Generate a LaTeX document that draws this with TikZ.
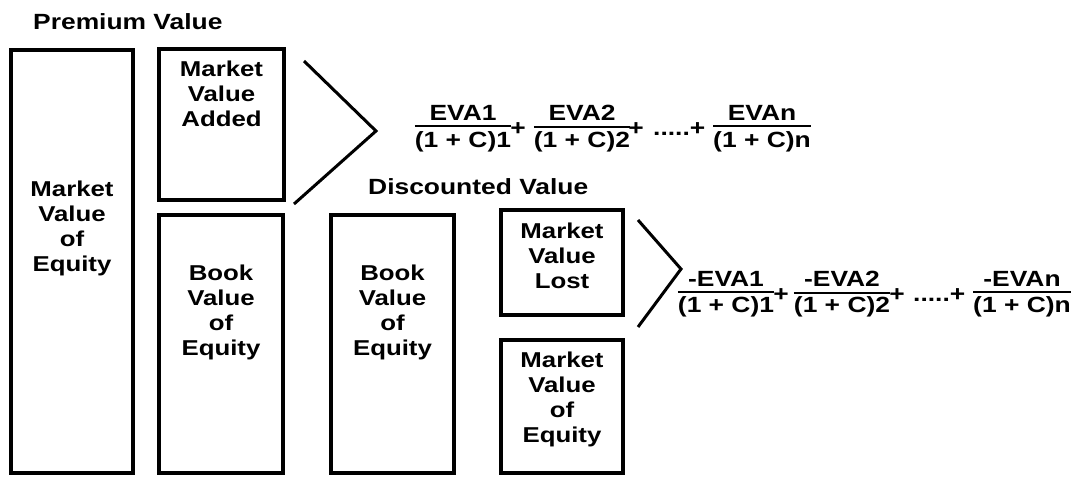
\documentclass[tikz,border=0pt]{standalone}
\usepackage{fontspec}
\setmainfont{Liberation Sans}[FakeStretch=1.2]
\usepackage{array}

% gaps above and below the fraction bar
\newlength\numgap
\newlength\dengap
\newcommand\evafrac[2]{{\renewcommand\arraystretch{0}\setlength\arrayrulewidth{2pt}%
  \begin{tabular}{@{}c@{}}#1\rule[-\numgap]{0pt}{0pt}\\\hline\rule{0pt}{\dengap}#2\end{tabular}}}

\tikzset{
  box/.style={draw, line width=4pt, inner sep=0pt, outer sep=0pt},
  boxtext/.style={font=\bfseries\fontsize{21.5}{25}\selectfont, align=center, anchor=north, inner sep=0pt},
  heading/.style={font=\bfseries\fontsize{22}{26}\selectfont, anchor=base west, inner sep=0pt},
  fracnode/.style={font=\bfseries\fontsize{22}{26}\selectfont, anchor=north, inner sep=0pt},
  plusnode/.style={font=\bfseries\fontsize{22}{26}\selectfont, anchor=base, inner sep=0pt},
  dotsnode/.style={font=\bfseries\fontsize{22}{26}\selectfont, anchor=base west, inner sep=0pt},
  brace/.style={line width=3pt, line join=miter}
}

\begin{document}
\begin{tikzpicture}[x=1pt, y=-1pt]
\useasboundingbox[fill=white] (0,0) rectangle (1073,477);

% headings
\node[heading] (prem) at (33,29) {Premium Value};
\node[heading] (disc) at (368,194) {Discounted Value};

% boxes
\node[box, minimum width=122pt, minimum height=423pt] (mve) at (72,261.5) {};
\node[box, minimum width=125pt, minimum height=151pt] (mva) at (221.5,124.5) {};
\node[box, minimum width=124pt, minimum height=258pt] (bve) at (221,344) {};
\node[box, minimum width=123pt, minimum height=258pt] (bvd) at (392.5,344) {};
\node[box, minimum width=122pt, minimum height=105pt] (mvl) at (562,262.5) {};
\node[box, minimum width=122pt, minimum height=133pt] (mvd) at (562,406.5) {};

% box labels
\node[boxtext] (mvet) at (72,181) {Market\\Value\\of\\Equity};
\node[boxtext] (mvat) at (221.5,61) {Market\\Value\\Added};
\node[boxtext] (bvet) at (221,265) {Book\\Value\\of\\Equity};
\node[boxtext] (bvdt) at (392.5,265) {Book\\Value\\of\\Equity};
\node[boxtext] (mvlt) at (562,223) {Market\\Value\\Lost};
\node[boxtext] (mvdt) at (562,352) {Market\\Value\\of\\Equity};

% chevrons
\coordinate (c1a) at (304,61);
\coordinate (c1b) at (376,131);
\coordinate (c1c) at (294,204);
\draw[brace] (c1a) -- (c1b) -- (c1c);
\coordinate (c2a) at (638,220);
\coordinate (c2b) at (681,269);
\coordinate (c2c) at (638,327);
\draw[brace] (c2a) -- (c2b) -- (c2c);

% value added series
\setlength\numgap{5pt}\setlength\dengap{20pt}
\node[fracnode] (pa1) at (463,105) {\evafrac{EVA1}{(1 + C)1}};
\node[plusnode] (pp1) at (518,135) {+};
\node[fracnode] (pa2) at (582,105) {\evafrac{EVA2}{(1 + C)2}};
\node[plusnode] (pp2) at (636,135) {+};
\node[dotsnode] (pd) at (653,135) {.....+};
\node[fracnode] (pan) at (762,105) {\evafrac{EVAn}{(1 + C)n}};

% value lost series
\setlength\numgap{5pt}\setlength\dengap{19pt}
\node[fracnode] (la1) at (726,271) {\evafrac{-EVA1}{(1 + C)1}};
\node[plusnode] (lp1) at (781,301) {+};
\node[fracnode] (la2) at (842,271) {\evafrac{-EVA2}{(1 + C)2}};
\node[plusnode] (lp2) at (897,301) {+};
\node[dotsnode] (ld) at (913,301) {.....+};
\node[fracnode] (lan) at (1022,271) {\evafrac{-EVAn}{(1 + C)n}};
\end{tikzpicture}
\end{document}
